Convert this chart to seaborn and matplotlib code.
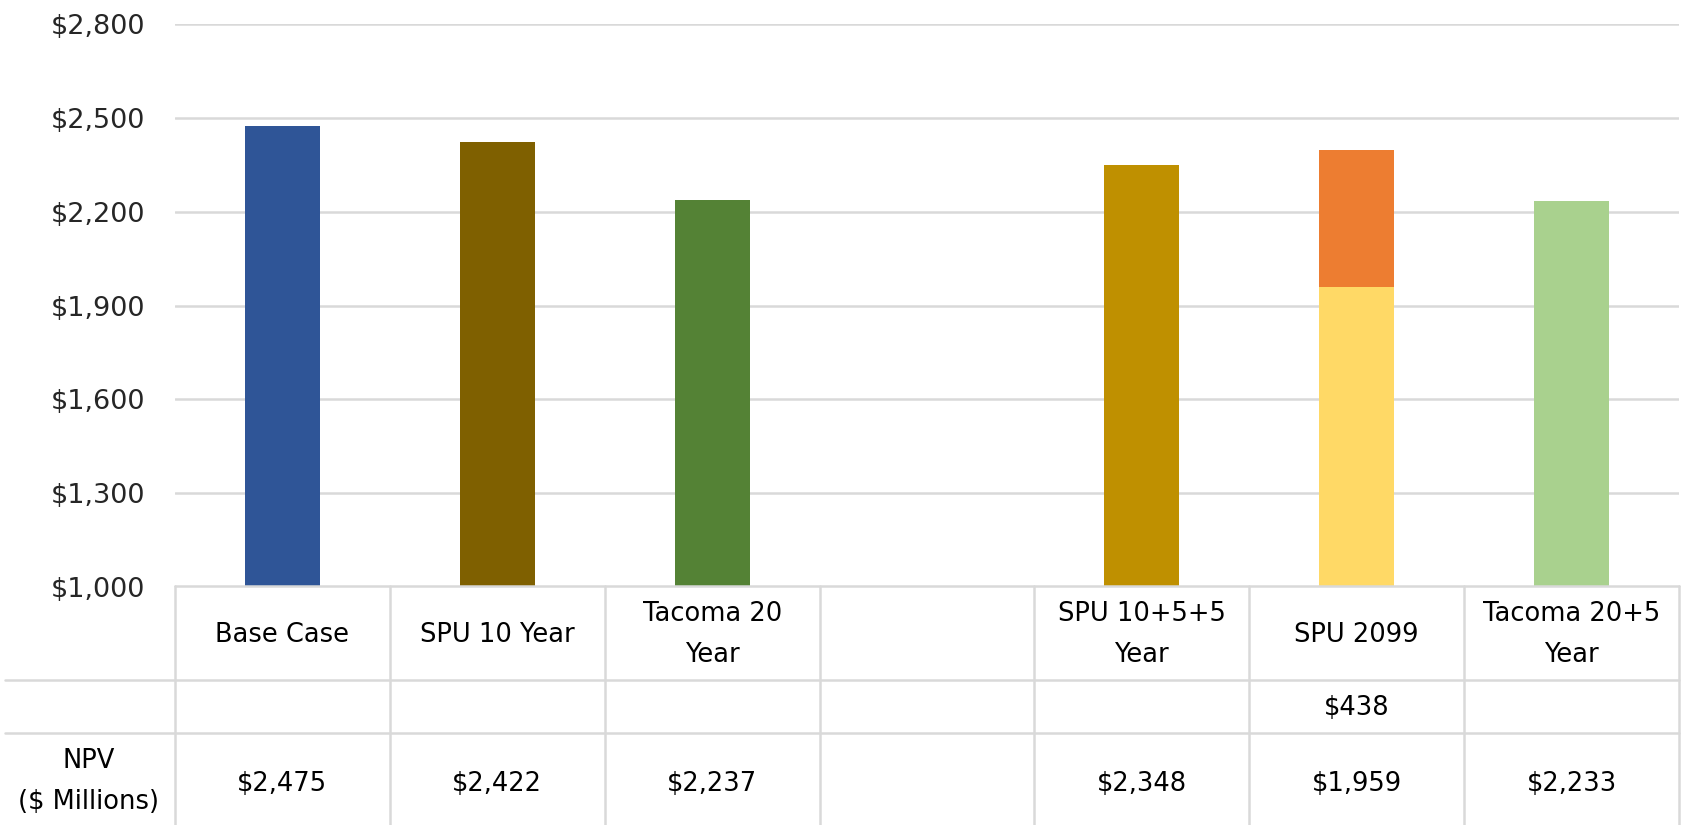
# NPV comparison bar chart with data table underneath
import pandas as pd
import seaborn as sns
import matplotlib.pyplot as plt
from matplotlib.ticker import FuncFormatter

# Data
cases = ['Base Case', 'SPU 10 Year', 'Tacoma 20 Year', ' ', 'SPU 10+5+5 Year', 'SPU 2099', 'Tacoma 20+5 Year']
case_labels = ['Base Case', 'SPU 10 Year', 'Tacoma 20\nYear', '', 'SPU 10+5+5\nYear', 'SPU 2099', 'Tacoma 20+5\nYear']
npv = [2475, 2422, 2237, None, 2348, 1959, 2233]
extra = [None, None, None, None, None, 438, None]
yticks = [1000, 1300, 1600, 1900, 2200, 2500, 2800]
bar_colors = ['#2F5597', '#7F6000', '#548235', '#FFFFFF', '#BF9000', '#FFD966', '#A9D18E']
extra_color = '#ED7D31'

df = pd.DataFrame({'case': cases, 'npv': npv, 'extra': extra})
df['total'] = df['npv'] + df['extra'].fillna(0)
base_df = df.dropna(subset=['npv'])
extra_df = df.dropna(subset=['extra'])
palette = dict(zip(cases, bar_colors))

sns.set_style('white')
plt.rcParams['font.family'] = ['DejaVu Sans']
FS = 18.5
GRID = '#D9D9D9'

W, H = 1687, 825
fig = plt.figure(figsize=(W / 100, H / 100), dpi=100)

# plot area in pixel terms
left, right, top, bottom = 175, 1679, 24, 587
ax = fig.add_axes([left / W, 1 - bottom / H, (right - left) / W, (bottom - top) / H])

# stacked bar: total first, base on top of it
sns.barplot(data=extra_df, x='case', y='total', order=cases, color=extra_color,
            width=0.35, saturation=1, errorbar=None, linewidth=0, ax=ax)
sns.barplot(data=base_df, x='case', y='npv', order=cases, hue='case', palette=palette,
            width=0.35, saturation=1, errorbar=None, legend=False, linewidth=0, ax=ax)

ax.set_xlim(-0.5, len(cases) - 0.5)
ax.set_ylim(yticks[0], yticks[-1])
ax.set_yticks(yticks)
ax.yaxis.set_major_formatter(FuncFormatter(lambda v, p: f'${v:,.0f}'))
ax.grid(axis='y', color=GRID, linewidth=1.8, zorder=0)
ax.set_axisbelow(True)
for s in ax.spines.values():
    s.set_visible(False)
ax.tick_params(axis='y', length=0, pad=21.5, labelsize=19.5, labelcolor='#262626')
ax.set_xticks([])
ax.set_xlabel('')
ax.set_ylabel('')

# data table below, drawn in pixel coordinates
tab = fig.add_axes([0, 0, 1, 1 - bottom / H + 0.002])
tab.set_xlim(0, W)
tab.set_ylim(H, bottom - 1)
tab.axis('off')

slot = (right - left) / len(cases)
row1, row2 = 680, 733
lkw = dict(color=GRID, linewidth=1.8)
tab.plot([left, right], [bottom, bottom], **lkw)
tab.plot([5, right], [row1, row1], **lkw)
tab.plot([5, right], [row2, row2], **lkw)
for k in range(len(cases) + 1):
    x = left + k * slot
    tab.plot([x, x], [bottom, H], **lkw)

for i, lab in enumerate(case_labels):
    cx = left + (i + 0.5) * slot
    tab.text(cx, (bottom + row1) / 2 + 2, lab, ha='center', va='center', fontsize=FS,
             linespacing=1.75, color='black')
    if extra[i] is not None:
        tab.text(cx, (row1 + row2) / 2 + 2, f'${extra[i]:,.0f}', ha='center', va='center',
                 fontsize=FS, color='black')
    if npv[i] is not None:
        tab.text(cx, 784, f'${npv[i]:,.0f}', ha='center', va='center', fontsize=FS, color='black')

tab.text(89, 782, 'NPV\n($ Millions)', ha='center', va='center', fontsize=FS,
         linespacing=1.75, color='black')

fig.savefig('out.png', dpi=100)
